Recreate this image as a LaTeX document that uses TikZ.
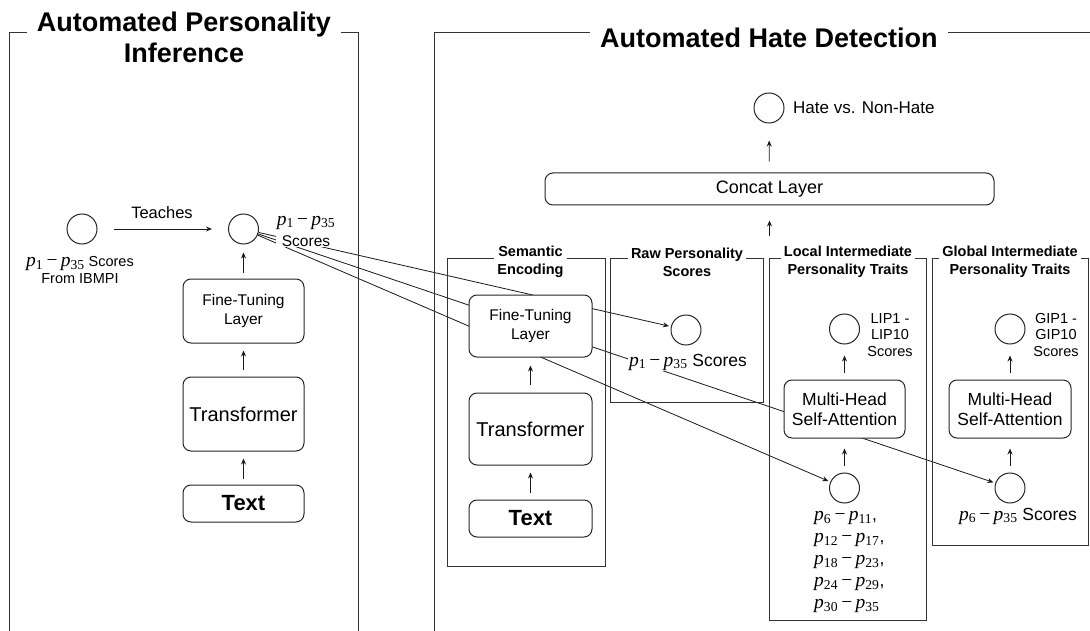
\RequirePackage{fix-cm}
\documentclass[tikz,border=0pt]{standalone}
\usepackage{fontspec}
\setmainfont{Liberation Sans}
\newfontfamily\tms{Liberation Serif}
\usetikzlibrary{arrows.meta}
\pgfdeclarelayer{bg}
\pgfsetlayers{bg,main}
% p_a - p_b in a Times-like italic, at a fixed size
\newcommand\rng[2]{{\fontsize{19.5}{20}\selectfont\tms\itshape p\textsubscript{\upshape #1}\,\upshape\char"2212\,\itshape p\textsubscript{\upshape #2}}}
\tikzset{
  frame/.style={draw=black!80, line width=1pt},
  ttl/.style={fill=white, font=\fontsize{27}{31}\selectfont\bfseries, align=center, inner xsep=10pt, inner ysep=3pt},
  subttl/.style={fill=white, font=\fontsize{14.5}{18}\selectfont\bfseries, align=center, inner xsep=3pt, inner ysep=1pt},
  box/.style={draw=black!85, line width=1pt, rounded corners=8pt, fill=white, align=center, inner sep=0pt},
  circ/.style={draw=black!85, line width=1pt, circle, minimum size=30pt, inner sep=0pt, fill=white},
  arr/.style={draw=black!90, line width=0.8pt, -{Stealth[length=6pt,width=5pt]}},
  lbl/.style={align=center, inner sep=1pt},
}
\begin{document}
\begin{tikzpicture}[x=1pt,y=-1pt]
\useasboundingbox (0,0) rectangle (1090,631);

% ---------- outer frames ----------
\draw[frame] (9,631) -- (9,33) -- (358,33) -- (358,631);
\draw[frame] (434,631) -- (434,33) -- (1090,33);
\node[ttl] (t1) at (184,37.5) {Automated Personality\\Inference};
\node[ttl] (t2) at (769,38) {Automated Hate Detection};

% ---------- left panel ----------
\node[circ] (c1) at (82,229) {};
\node[circ] (c2) at (243.5,229) {};
\node[lbl, font=\fontsize{16.5}{19}\selectfont] (teach) at (162,213) {Teaches};
\node[lbl, font=\fontsize{14.5}{17}\selectfont] (c1l) at (80,270) {\rng{1}{35} Scores\\From IBMPI};
\node[lbl, fill=white, font=\fontsize{15.5}{21}\selectfont] (c2l) at (306,231) {\rng{1}{35}\\Scores};
\node[box, minimum width=121pt, minimum height=64pt, font=\fontsize{15.5}{19}\selectfont] (ft1) at (243.5,311) {Fine-Tuning\\Layer};
\node[box, minimum width=121pt, minimum height=74pt, font=\fontsize{20}{24}\selectfont] (tr1) at (243.5,414) {Transformer};
\node[box, minimum width=121pt, minimum height=37pt, font=\fontsize{22}{26}\selectfont\bfseries] (tx1) at (243.5,503.5) {Text};
\draw[arr, shorten <=16pt, shorten >=16pt] (c1) -- (c2);
\draw[arr, shorten <=6pt, shorten >=7pt] (tx1) -- (tr1);
\draw[arr, shorten <=7pt, shorten >=7pt] (tr1) -- (ft1);
\draw[arr, shorten <=5pt, shorten >=8pt] (ft1) -- (c2);

% ---------- right panel: top ----------
\node[circ] (hate) at (769,108) {};
\node[lbl, anchor=west, font=\fontsize{17}{20}\selectfont] (hatel) at (792,108) {Hate vs. Non-Hate};
\node[box, minimum width=449pt, minimum height=32pt, font=\fontsize{18}{21}\selectfont] (concat) at (769.5,189) {Concat Layer};
\coordinate (cin) at (769.5,236);
\draw[arr, shorten <=11pt, shorten >=17pt] (concat) -- (hate);
\draw[arr, shorten >=15pt] (cin) -- (concat);

% ---------- sub-panels ----------
\draw[frame] (447,259) rectangle (605,566);
\draw[frame] (610,259) rectangle (763,402);
\draw[frame] (769,259) rectangle (926,620);
\draw[frame] (932,259) rectangle (1088,545);
\node[subttl] (s1) at (530.5,262) {Semantic\\Encoding};
\node[subttl] (s2) at (687,262) {Raw Personality\\Scores};
\node[subttl] (s3) at (848,262) {Local Intermediate\\Personality Traits};
\node[subttl] (s4) at (1010,262) {Global Intermediate\\Personality Traits};

% semantic encoding
\node[box, minimum width=123pt, minimum height=62pt, font=\fontsize{15.5}{19}\selectfont] (ft2) at (530.5,326) {Fine-Tuning\\Layer};
\node[box, minimum width=123pt, minimum height=72pt, font=\fontsize{20}{24}\selectfont] (tr2) at (530.5,429) {Transformer};
\node[box, minimum width=123pt, minimum height=37pt, font=\fontsize{22}{26}\selectfont\bfseries] (tx2) at (530.5,518.5) {Text};
\draw[arr, shorten <=7pt, shorten >=7pt] (tx2) -- (tr2);
\draw[arr, shorten <=8pt, shorten >=8pt] (tr2) -- (ft2);

% raw personality scores
\node[circ] (rawc) at (686,330) {};
\node[lbl, fill=white, font=\fontsize{17.5}{21}\selectfont] (rawl) at (688,362) {\rng{1}{35} Scores};

% local intermediate
\node[circ] (lipc) at (844.5,329) {};
\node[lbl, font=\fontsize{14.5}{16.5}\selectfont] (lipl) at (890,335) {LIP1 -\\LIP10\\Scores};
\node[box, minimum width=121pt, minimum height=58pt, font=\fontsize{17.5}{20}\selectfont] (mh1) at (844.5,409) {Multi-Head\\Self-Attention};
\node[circ] (locc) at (844.5,488) {};
\node[anchor=north west, align=left, inner sep=0pt, font=\fontsize{17.5}{22}\selectfont] (locl) at (814,511) {\rng{6}{11},\\\rng{12}{17},\\\rng{18}{23},\\\rng{24}{29},\\\rng{30}{35}};
\draw[arr, shorten <=7pt, shorten >=11pt] (mh1) -- (lipc);
\draw[arr, shorten <=7pt, shorten >=10pt] (locc) -- (mh1);

% global intermediate
\node[circ] (gipc) at (1010,329) {};
\node[lbl, font=\fontsize{14.5}{16.5}\selectfont] (gipl) at (1056,335) {GIP1 -\\GIP10\\Scores};
\node[box, minimum width=122pt, minimum height=58pt, font=\fontsize{17.5}{20}\selectfont] (mh2) at (1010,409) {Multi-Head\\Self-Attention};
\node[circ] (globc) at (1010,488) {};
\node[lbl, font=\fontsize{17.5}{21}\selectfont] (globl) at (1018,516) {\rng{6}{35} Scores};
\draw[arr, shorten <=7pt, shorten >=11pt] (mh2) -- (gipc);
\draw[arr, shorten <=7pt, shorten >=10pt] (globc) -- (mh2);

% ---------- long connectors (behind boxes) ----------
\begin{pgfonlayer}{bg}
\draw[arr, shorten >=2pt] (c2) -- (rawc);
\draw[arr, shorten >=2pt] (c2) -- (locc);
\draw[arr, shorten >=2pt] (c2) -- (globc);
\end{pgfonlayer}
\end{tikzpicture}
\end{document}
